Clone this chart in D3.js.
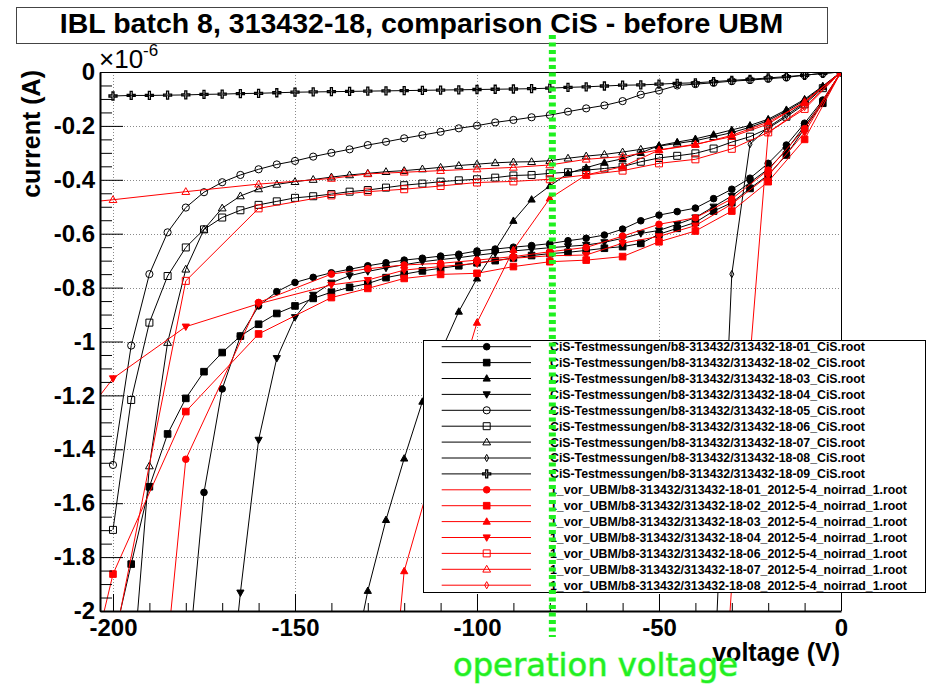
<!DOCTYPE html>
<html><head><meta charset="utf-8">
<script src="https://cdn.jsdelivr.net/npm/d3@7"></script>
<style>html,body{margin:0;padding:0;background:#fff}svg{display:block}</style>
</head><body><svg id="c" width="927" height="685"></svg>
<script>
// ---------------- DATA ----------------
const titleText = "IBL batch 8, 313432-18, comparison CiS - before UBM";
const xTitle = "voltage (V)";
const yTitle = "current (A)";
const xMajorTicks = [-200, -150, -100, -50, 0];
const xMinorTicks = [-190, -180, -170, -160, -140, -130, -120, -110, -90, -80, -70, -60, -40, -30, -20, -10];
const yMajorTicks = [0, -0.2, -0.4, -0.6, -0.8, -1, -1.2, -1.4, -1.6, -1.8, -2];
const yMinorTicks = [-0.05,-0.1,-0.15,-0.25,-0.3,-0.35,-0.45,-0.5,-0.55,-0.65,-0.7,-0.75,-0.85,-0.9,-0.95,-1.05,-1.1,-1.15,-1.25,-1.3,-1.35,-1.45,-1.5,-1.55,-1.65,-1.7,-1.75,-1.85,-1.9,-1.95];
const operationVoltage = -79.3;

// voltages (V) of the CiS measurements (black) and of the "vor UBM" measurements (red)
const blackVoltages = [0,-5,-10,-15,-20,-25,-30,-35,-40,-45,-50,-55,-60,-65,-70,-75,-80,-85,-90,-95,-100,-105,-110,-115,-120,-125,-130,-135,-140,-145,-150,-155,-160,-165,-170,-175,-180,-185,-190,-195,-200];
const redVoltages = [0,-10,-20,-30,-40,-50,-60,-70,-80,-90,-100,-110,-120,-130,-140,-160,-180,-200,-220];

// currents in units of 1e-6 A (null = not plotted / far outside)
const cis01 = [0,-0.104,-0.19,-0.271,-0.339,-0.394,-0.435,-0.47,-0.505,-0.518,-0.531,-0.552,-0.583,-0.605,-0.617,-0.626,-0.637,-0.644,-0.65,-0.657,-0.664,-0.676,-0.683,-0.691,-0.698,-0.708,-0.719,-0.732,-0.745,-0.762,-0.781,-0.815,-0.868,-0.98,-1.176,-1.56,-2.29,null,null,null,null];
const cis02 = [0,-0.116,-0.209,-0.308,-0.382,-0.432,-0.485,-0.516,-0.558,-0.58,-0.602,-0.636,-0.648,-0.654,-0.662,-0.669,-0.674,-0.681,-0.69,-0.7,-0.708,-0.719,-0.728,-0.738,-0.75,-0.763,-0.785,-0.799,-0.817,-0.84,-0.868,-0.896,-0.936,-0.98,-1.041,-1.112,-1.211,-1.343,-1.539,-1.826,-2.12];
const cis03 = [0,-0.052,-0.101,-0.14,-0.175,-0.198,-0.215,-0.232,-0.248,-0.26,-0.273,-0.3,-0.322,-0.336,-0.355,-0.376,-0.423,-0.473,-0.552,-0.66,-0.766,-0.889,-1.04,-1.223,-1.434,-1.662,-1.925,-2.26,null,null,null,null,null,null,null,null,null,null,null,null,null];
const cis04 = [0,-0.11,-0.2,-0.29,-0.36,-0.41,-0.46,-0.5,-0.54,-0.565,-0.588,-0.599,-0.617,-0.632,-0.642,-0.647,-0.652,-0.658,-0.664,-0.672,-0.68,-0.689,-0.696,-0.704,-0.715,-0.727,-0.74,-0.756,-0.782,-0.827,-0.91,-1.062,-1.365,-1.932,-2.6,null,null,null,null,null,null];
const cis05 = [0,-0.005,-0.012,-0.02,-0.025,-0.03,-0.034,-0.04,-0.045,-0.05,-0.069,-0.084,-0.108,-0.124,-0.135,-0.147,-0.16,-0.168,-0.178,-0.187,-0.199,-0.209,-0.222,-0.234,-0.246,-0.259,-0.271,-0.287,-0.3,-0.314,-0.33,-0.343,-0.361,-0.382,-0.409,-0.446,-0.503,-0.595,-0.75,-1.015,-1.458];
const cis06 = [0,-0.06,-0.12,-0.166,-0.209,-0.24,-0.26,-0.284,-0.302,-0.311,-0.319,-0.333,-0.351,-0.358,-0.364,-0.372,-0.376,-0.382,-0.384,-0.392,-0.398,-0.402,-0.407,-0.414,-0.42,-0.429,-0.438,-0.444,-0.453,-0.461,-0.467,-0.48,-0.493,-0.513,-0.54,-0.584,-0.651,-0.757,-0.93,-1.217,-1.699];
const cis07 = [0,-0.055,-0.105,-0.145,-0.18,-0.205,-0.225,-0.24,-0.255,-0.265,-0.275,-0.287,-0.297,-0.306,-0.312,-0.32,-0.329,-0.333,-0.334,-0.337,-0.342,-0.347,-0.354,-0.36,-0.366,-0.37,-0.376,-0.382,-0.39,-0.399,-0.407,-0.417,-0.434,-0.46,-0.505,-0.584,-0.732,-1.004,-1.462,-2.3,null];
const cis08 = [0,-0.055,-0.115,-0.16,-0.205,-0.268,-0.75,-2.3,null,null,null,null,null,null,null,null,null,null,null,null,null,null,null,null,null,null,null,null,null,null,null,null,null,null,null,null,null,null,null,null,null];
const cis09 = [0,-0.005,-0.012,-0.017,-0.022,-0.027,-0.031,-0.036,-0.04,-0.042,-0.045,-0.048,-0.049,-0.052,-0.055,-0.057,-0.06,-0.062,-0.063,-0.064,-0.065,-0.066,-0.067,-0.068,-0.069,-0.07,-0.071,-0.072,-0.073,-0.074,-0.075,-0.077,-0.079,-0.08,-0.082,-0.083,-0.085,-0.086,-0.087,-0.087,-0.089];

const vor01 = [0,-0.21,-0.364,-0.471,-0.541,-0.565,-0.609,-0.651,-0.667,-0.685,-0.698,-0.71,-0.716,-0.73,-0.75,-0.855,-1.437,-4.2,null];
const vor02 = [0,-0.25,-0.407,-0.516,-0.59,-0.63,-0.685,-0.698,-0.704,-0.722,-0.747,-0.751,-0.766,-0.803,-0.837,-0.972,-1.26,-1.863,-3.0];
const vor03 = [0,-0.114,-0.186,-0.235,-0.27,-0.29,-0.351,-0.382,-0.469,-0.66,-0.93,-1.38,-1.852,-3.3,null,null,null,null,null];
const vor04 = [0,-0.225,-0.385,-0.49,-0.57,-0.61,-0.635,-0.679,-0.682,-0.691,-0.71,-0.722,-0.735,-0.772,-0.79,-0.86,-0.945,-1.137,-1.49];
const vor06 = [0,-0.137,-0.224,-0.285,-0.324,-0.339,-0.366,-0.382,-0.398,-0.406,-0.41,-0.423,-0.435,-0.444,-0.458,-0.506,-0.775,-2.14,null];
const vor07 = [0,-0.11,-0.193,-0.24,-0.268,-0.289,-0.314,-0.324,-0.345,-0.354,-0.36,-0.366,-0.372,-0.378,-0.395,-0.416,-0.444,-0.474,-0.5];
const vor08 = [0,-0.13,-0.225,-1.9,-4.0,null,null,null,null,null,null,null,null,null,null,null,null,null,null];

const seriesLabels = [
 "CiS-Testmessungen/b8-313432/313432-18-01_CiS.root",
 "CiS-Testmessungen/b8-313432/313432-18-02_CiS.root",
 "CiS-Testmessungen/b8-313432/313432-18-03_CiS.root",
 "CiS-Testmessungen/b8-313432/313432-18-04_CiS.root",
 "CiS-Testmessungen/b8-313432/313432-18-05_CiS.root",
 "CiS-Testmessungen/b8-313432/313432-18-06_CiS.root",
 "CiS-Testmessungen/b8-313432/313432-18-07_CiS.root",
 "CiS-Testmessungen/b8-313432/313432-18-08_CiS.root",
 "CiS-Testmessungen/b8-313432/313432-18-09_CiS.root",
 "1_vor_UBM/b8-313432/313432-18-01_2012-5-4_noirrad_1.root",
 "1_vor_UBM/b8-313432/313432-18-02_2012-5-4_noirrad_1.root",
 "1_vor_UBM/b8-313432/313432-18-03_2012-5-4_noirrad_1.root",
 "1_vor_UBM/b8-313432/313432-18-04_2012-5-4_noirrad_1.root",
 "1_vor_UBM/b8-313432/313432-18-06_2012-5-4_noirrad_1.root",
 "1_vor_UBM/b8-313432/313432-18-07_2012-5-4_noirrad_1.root",
 "1_vor_UBM/b8-313432/313432-18-08_2012-5-4_noirrad_1.root"
];

// ---------------- BUILD ----------------
const BLACK = "#000000", RED = "#ff0000";
const series = [
 {v: blackVoltages, c: cis01, col: BLACK, m: "circleF"},
 {v: blackVoltages, c: cis02, col: BLACK, m: "squareF"},
 {v: blackVoltages, c: cis03, col: BLACK, m: "triUpF"},
 {v: blackVoltages, c: cis04, col: BLACK, m: "triDownF"},
 {v: blackVoltages, c: cis05, col: BLACK, m: "circleO"},
 {v: blackVoltages, c: cis06, col: BLACK, m: "squareO"},
 {v: blackVoltages, c: cis07, col: BLACK, m: "triUpO"},
 {v: blackVoltages, c: cis08, col: BLACK, m: "diamondO"},
 {v: blackVoltages, c: cis09, col: BLACK, m: "crossO"},
 {v: redVoltages, c: vor01, col: RED, m: "circleF"},
 {v: redVoltages, c: vor02, col: RED, m: "squareF"},
 {v: redVoltages, c: vor03, col: RED, m: "triUpF"},
 {v: redVoltages, c: vor04, col: RED, m: "triDownF"},
 {v: redVoltages, c: vor06, col: RED, m: "squareO"},
 {v: redVoltages, c: vor07, col: RED, m: "triUpO"},
 {v: redVoltages, c: vor08, col: RED, m: "diamondO"}
].map((s, k) => Object.assign(s, {label: seriesLabels[k]}));

const markerPath = {
  circleF: "M3.3,0A3.3,3.3 0 1,1 -3.3,0A3.3,3.3 0 1,1 3.3,0Z",
  circleO: "M3.6,0A3.6,3.6 0 1,1 -3.6,0A3.6,3.6 0 1,1 3.6,0Z",
  squareF: "M-3.3,-3.3H3.3V3.3H-3.3Z",
  squareO: "M-3.5,-3.5H3.5V3.5H-3.5Z",
  triUpF: "M0,-3.8L3.6,2.6L-3.6,2.6Z",
  triUpO: "M0,-4L3.9,2.8L-3.9,2.8Z",
  triDownF: "M0,3.8L3.6,-2.6L-3.6,-2.6Z",
  diamondO: "M0,-3.6L2,0L0,3.6L-2,0Z",
  crossO: "M-1,-4H1V-1H4V1H1V4H-1V1H-4V-1H-1Z"
};
const isFilled = m => m.endsWith("F");

const svg = d3.select("#c");
svg.append("rect").attr("width", 927).attr("height", 685).attr("fill", "#fff");

const X0 = 100, X1 = 841, Y0 = 72, Y1 = 611;
const x = d3.scaleLinear().domain([-203.57, 0]).range([X0, X1]);
const y = d3.scaleLinear().domain([-2, 0]).range([Y1, Y0]);

// title box
svg.append("rect").attr("x", 16.5).attr("y", 7.5).attr("width", 811).attr("height", 36)
  .attr("fill", "#fff").attr("stroke", "#444").attr("stroke-width", 1);
svg.append("text").attr("x", 421.5).attr("y", 32.5).attr("text-anchor", "middle")
  .attr("font-family", "Liberation Sans, Arial, Helvetica, sans-serif").attr("font-weight", "bold")
  .attr("font-size", 28.5).attr("fill", "#000").text(titleText);

// grid
const grid = svg.append("g").attr("stroke", "#8a8a8a").attr("stroke-width", 1).attr("stroke-dasharray", "1,2");
grid.selectAll("line.gx").data(xMajorTicks.filter(v => v < 0)).join("line")
  .attr("x1", d => Math.round(x(d)) + 0.5).attr("x2", d => Math.round(x(d)) + 0.5)
  .attr("y1", Y0).attr("y2", Y1);
grid.selectAll("line.gy").data(yMajorTicks.filter(v => v < 0 && v > -2)).join("line")
  .attr("y1", d => Math.round(y(d)) + 0.5).attr("y2", d => Math.round(y(d)) + 0.5)
  .attr("x1", X0).attr("x2", X1);

// clip
svg.append("defs").append("clipPath").attr("id", "plot")
  .append("rect").attr("x", X0).attr("y", Y0).attr("width", X1 - X0).attr("height", Y1 - Y0);

const plot = svg.append("g").attr("clip-path", "url(#plot)");
const line = d3.line().defined(d => d.i !== null).x(d => x(d.v)).y(d => y(d.i));
series.forEach(s => {
  const pts = s.v.map((v, k) => ({v: v, i: s.c[k]})).filter(d => d.i !== null);
  const g = plot.append("g");
  g.append("path").datum(pts).attr("d", line).attr("fill", "none")
    .attr("stroke", s.col).attr("stroke-width", 1);
  g.selectAll("path.m").data(pts.filter(d => d.v >= -203.5 && d.i >= -2.02)).join("path")
    .attr("class", "m")
    .attr("transform", d => `translate(${x(d.v)},${y(d.i)})`)
    .attr("d", markerPath[s.m])
    .attr("fill", isFilled(s.m) ? s.col : "none")
    .attr("stroke", s.col).attr("stroke-width", s.m === "crossO" ? 1.3 : 1);
});

// frame top / right
svg.append("path").attr("d", `M${X0},${Y0 + 0.5}H${X1 + 0.5}V${Y1}`).attr("fill", "none")
  .attr("stroke", "#000").attr("stroke-width", 1);

const fontAxis = "Liberation Sans, Arial, Helvetica, sans-serif";
const yFmt = v => v === 0 ? "0" : String(+v.toFixed(1));

// y axis
const yAx = svg.append("g").attr("transform", `translate(${X0},0)`)
  .call(d3.axisLeft(y).tickValues(yMajorTicks).tickSizeInner(-23).tickSizeOuter(0).tickPadding(5).tickFormat(yFmt));
yAx.select(".domain").attr("stroke-width", 2);
yAx.selectAll("text").attr("font-family", fontAxis).attr("font-weight", "bold").attr("font-size", 24).attr("fill", "#000");
const yMin = svg.append("g").attr("transform", `translate(${X0},0)`)
  .call(d3.axisLeft(y).tickValues(yMinorTicks).tickSizeInner(-12).tickSizeOuter(0).tickFormat(""));
yMin.select(".domain").remove();

// x axis
const xAx = svg.append("g").attr("transform", `translate(0,${Y1})`)
  .call(d3.axisBottom(x).tickValues(xMajorTicks).tickSizeInner(-17).tickSizeOuter(0).tickPadding(8).tickFormat(d => String(d)));
xAx.select(".domain").attr("stroke-width", 2);
xAx.selectAll("text").attr("font-family", fontAxis).attr("font-weight", "bold").attr("font-size", 24).attr("fill", "#000");
const xMin = svg.append("g").attr("transform", `translate(0,${Y1})`)
  .call(d3.axisBottom(x).tickValues(xMinorTicks).tickSizeInner(-8).tickSizeOuter(0).tickFormat(""));
xMin.select(".domain").remove();

// axis titles
svg.append("text").attr("transform", "translate(40,70) rotate(-90)").attr("text-anchor", "end")
  .attr("font-family", fontAxis).attr("font-weight", "bold").attr("font-size", 25).text(yTitle);
svg.append("text").attr("x", 840).attr("y", 661).attr("text-anchor", "end")
  .attr("font-family", fontAxis).attr("font-weight", "bold").attr("font-size", 25).text(xTitle);
const exp = svg.append("text").attr("x", 99).attr("y", 68).attr("font-family", fontAxis).attr("font-size", 26);
exp.append("tspan").text("\u00d710");
exp.append("tspan").attr("dy", -12).attr("font-size", 17).text("-6");

// legend
const leg = svg.append("g");
leg.append("rect").attr("x", 423.5).attr("y", 340.5).attr("width", 502).attr("height", 252)
  .attr("fill", "#fff").attr("stroke", "#000").attr("stroke-width", 1);
series.forEach((s, k) => {
  const cy = 346.7 + 15.9 * k;
  leg.append("line").attr("x1", 441.7).attr("x2", 531).attr("y1", cy).attr("y2", cy)
    .attr("stroke", s.col).attr("stroke-width", 1);
  leg.append("path").attr("transform", `translate(486.7,${cy})`).attr("d", markerPath[s.m])
    .attr("fill", isFilled(s.m) ? s.col : "none").attr("stroke", s.col)
    .attr("stroke-width", s.m === "crossO" ? 1.3 : 1);
  leg.append("text").attr("x", 550).attr("y", cy).attr("dy", "0.36em")
    .attr("font-family", fontAxis).attr("font-weight", "bold").attr("font-size", 12.3).attr("fill", "#000")
    .text(s.label);
});

// operation voltage marker
const xo = x(operationVoltage);
svg.append("line").attr("x1", xo).attr("x2", xo).attr("y1", 35).attr("y2", 637)
  .attr("stroke", "#1ff01f").attr("stroke-width", 7).attr("stroke-dasharray", "4,3.5");
svg.append("text").attr("x", 453).attr("y", 676)
  .attr("font-family", "DejaVu Sans, Verdana, sans-serif").attr("font-size", 32.2)
  .attr("fill", "#22ee22").attr("stroke", "#8cff8c").attr("stroke-width", 1.2).attr("paint-order", "stroke")
  .text("operation voltage");
</script></body></html>
